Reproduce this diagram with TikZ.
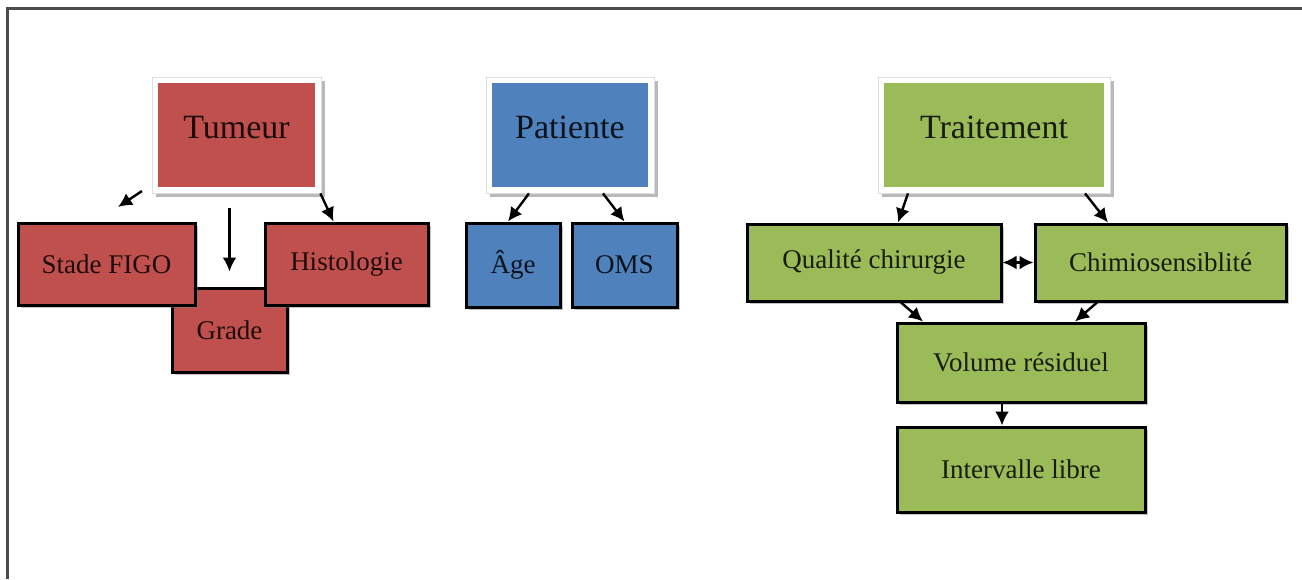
\documentclass[tikz,border=0pt]{standalone}
\usepackage{fontspec}
\setmainfont{Liberation Serif}
\usetikzlibrary{arrows.meta,shadows}

\definecolor{tumred}{HTML}{C0504D}
\definecolor{patblue}{HTML}{4F81BD}
\definecolor{trtgreen}{HTML}{9BBB59}

\tikzset{
  headbox/.style={draw=gray!25, line width=0.4pt, fill=white, inner sep=0pt,
    drop shadow={shadow xshift=2pt, shadow yshift=-2pt, fill=gray!55, opacity=1},
    path picture={\fill[#1] ([shift={(3pt,3pt)}]path picture bounding box.south west)
      rectangle ([shift={(-3pt,-3pt)}]path picture bounding box.north east);},
    text=#1!15!black, text depth=8pt, font=\fontsize{17}{20}\selectfont},
  subbox/.style={draw=black, line width=1.5pt, fill=#1, inner sep=0pt,
    drop shadow={shadow xshift=1.5pt, shadow yshift=-1.5pt, opacity=0.45},
    text=#1!15!black, font=\fontsize{13.5}{16}\selectfont},
  arr/.style={-{Latex[length=7pt,width=7pt]}, line width=1.2pt}
}

\begin{document}
\begin{tikzpicture}[x=0.5pt, y=-0.5pt]
    \useasboundingbox (0,0) rectangle (1302,579);
    \draw [line width=1.5pt, black!70] (7,579) -- (7,8) -- (1302,8);

    % tumeur
    \node [headbox=tumred, minimum width=84.5pt, minimum height=58pt] (tum) at (236.5,135) {Tumeur};
    \node [subbox=tumred, minimum width=57.5pt, minimum height=42pt] (grade) at (229.5,330) {Grade};
    \node [subbox=tumred, minimum width=88.5pt, minimum height=41pt] (figo) at (106.5,264) {Stade FIGO};
    \node [subbox=tumred, minimum width=81.5pt, minimum height=41pt] (histo) at (346.5,264) {Histologie};

    \coordinate (figoA) at (142,191);
    \coordinate (figoB) at (118,207);
    \draw [arr] (figoA) -- (figoB);
    \draw [arr, shorten <=7.5pt, shorten >=7.5pt] (tum.south -| grade.north) -- (grade.north);
    \draw [arr] ([xshift=-0.5pt]tum.south east) -- ([xshift=35pt]histo.north west);

    % patiente
    \node [headbox=patblue, minimum width=84pt, minimum height=58pt] (pat) at (570,135) {Patiente};
    \node [subbox=patblue, minimum width=47pt, minimum height=42pt] (age) at (513,265) {Âge};
    \node [subbox=patblue, minimum width=52.5pt, minimum height=42pt] (oms) at (624.5,265) {OMS};

    \draw [arr] ([xshift=-20.5pt]pat.south) -- ([xshift=-2.5pt]age.north);
    \draw [arr] ([xshift=16.5pt]pat.south) -- (oms.north);

    % traitement
    \node [headbox=trtgreen, minimum width=116pt, minimum height=58pt] (trt) at (994,135) {Traitement};
    \node [subbox=trtgreen, minimum width=127pt, minimum height=38.5pt] (qual) at (874,262.5) {Qualité chirurgie};
    \node [subbox=trtgreen, minimum width=125.5pt, minimum height=38.5pt] (chim) at (1160.5,262.5) {Chimiosensiblité};
    \node [subbox=trtgreen, minimum width=124pt, minimum height=39.5pt] (vol) at (1021,362.5) {Volume résiduel};
    \node [subbox=trtgreen, minimum width=124pt, minimum height=42.5pt] (libre) at (1021,469.5) {Intervalle libre};

    \draw [arr] ([xshift=-43pt]trt.south) -- ([xshift=12pt]qual.north);
    \draw [arr] ([xshift=45.5pt]trt.south) -- ([xshift=-26.25pt]chim.north);
    \draw [arr, {Latex[length=7pt,width=7pt]}-{Latex[length=7pt,width=7pt]}] (qual) -- (chim);
    \draw [arr] ([xshift=13.5pt]qual.south) -- ([xshift=-49pt]vol.north);
    \draw [arr] ([xshift=-31.75pt]chim.south) -- ([xshift=27pt]vol.north);
    \draw [arr] ([xshift=-9.5pt]vol.south) -- ([xshift=-9.5pt]libre.north);
  \end{tikzpicture}
\end{document}
